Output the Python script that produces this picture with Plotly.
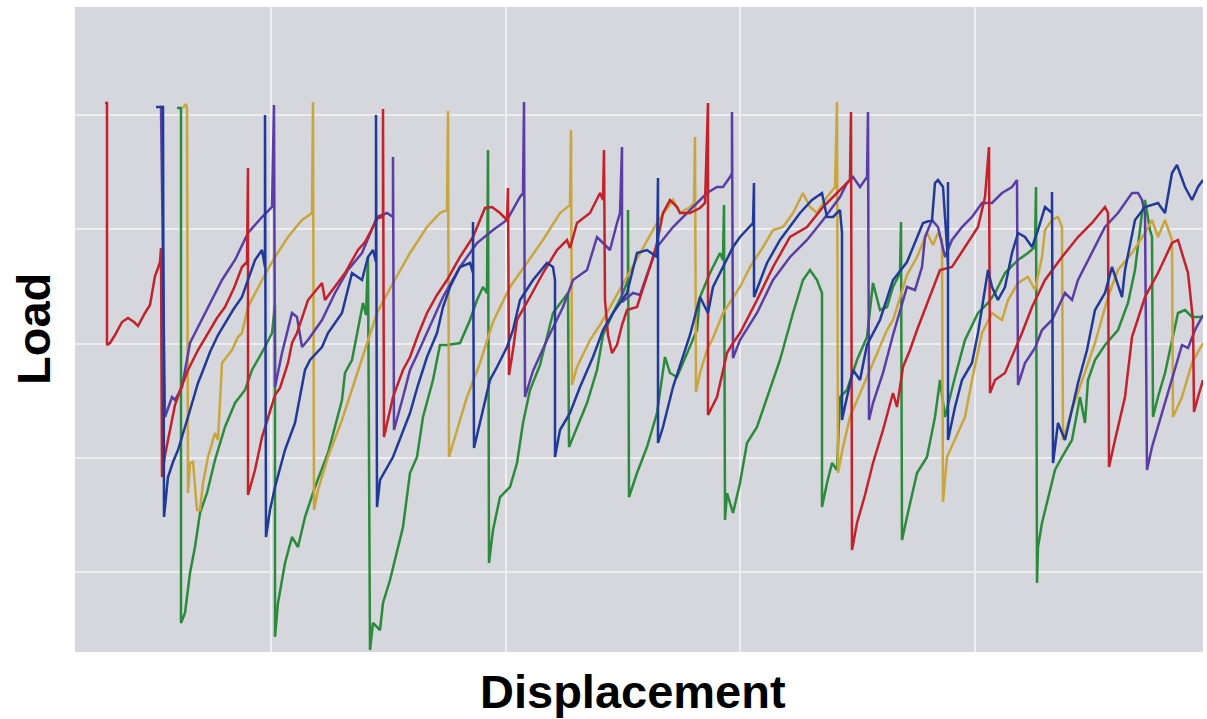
import plotly.graph_objects as go

# Load–displacement sawtooth curves.
# Each entry is (displacement, load) in arbitrary units (no tick labels on the chart).

red_pts = [
    (105, 597), (107, 597), (107, 355), (110, 357), (115, 365), (122, 378), (128, 382), (134, 378),
    (138, 374), (141, 380), (145, 387), (150, 395), (152, 407), (155, 424), (158, 432), (160, 438),
    (161, 452), (162, 223), (165, 245), (170, 270), (175, 295), (181, 312), (188, 330), (198, 350),
    (208, 367), (217, 382), (225, 393), (234, 412), (242, 433), (247, 438), (248, 532), (248, 205),
    (255, 230), (262, 263), (268, 282), (275, 305), (280, 312), (288, 337), (292, 357), (297, 367),
    (308, 400), (315, 408), (322, 417), (325, 400), (335, 413), (345, 427), (358, 450), (365, 458),
    (373, 473), (378, 482), (383, 483), (383, 591), (384, 263), (393, 303), (403, 330), (410, 343),
    (418, 365), (427, 387), (437, 405), (447, 420), (460, 443), (473, 463), (485, 492), (492, 493),
    (500, 487), (507, 480), (508, 512), (509, 325), (513, 350), (517, 380), (530, 403), (543, 427),
    (557, 450), (567, 460), (570, 452), (577, 477), (590, 487), (597, 500), (600, 507), (603, 500),
    (604, 550), (605, 400), (608, 365), (612, 347), (617, 355), (622, 375), (627, 390), (637, 393),
    (650, 433), (657, 457), (663, 487), (670, 500), (677, 493), (680, 487), (690, 487), (700, 492),
    (705, 497), (708, 597), (708, 285), (717, 303), (727, 347), (733, 357), (740, 367), (757, 400),
    (773, 433), (790, 463), (807, 473), (823, 493), (840, 510), (850, 520), (851, 588), (852, 150),
    (857, 177), (865, 205), (873, 237), (883, 270), (893, 307), (897, 293), (903, 333), (910, 350),
    (917, 370), (930, 403), (940, 430), (952, 433), (965, 453), (978, 473), (985, 503), (989, 553),
    (990, 307), (995, 320), (1005, 327), (1012, 343), (1022, 367), (1032, 393), (1045, 420),
    (1062, 443), (1078, 463), (1092, 477), (1105, 493), (1108, 487), (1109, 233), (1115, 260),
    (1125, 303), (1132, 363), (1145, 403), (1158, 427), (1172, 457), (1178, 460), (1188, 427),
    (1193, 380), (1194, 288), (1198, 303), (1203, 320),
]

blue_pts = [
    (156, 593), (163, 593), (164, 183), (168, 223), (173, 238), (178, 250), (188, 283), (198, 317),
    (202, 327), (210, 348), (218, 365), (225, 377), (233, 390), (242, 403), (250, 425), (255, 440),
    (262, 450), (265, 433), (265, 585), (266, 163), (270, 190), (275, 213), (285, 250), (295, 277),
    (305, 330), (310, 340), (322, 353), (328, 367), (342, 387), (352, 427), (362, 420), (368, 443),
    (373, 450), (376, 438), (376, 585), (377, 193), (380, 220), (393, 243), (410, 287), (418, 315),
    (427, 343), (437, 367), (443, 393), (450, 413), (460, 433), (470, 437), (473, 427), (473, 478),
    (474, 252), (480, 277), (490, 320), (497, 333), (507, 353), (513, 370), (520, 400), (533, 420),
    (547, 437), (553, 433), (555, 420), (555, 243), (560, 270), (570, 287), (580, 313), (593, 343),
    (603, 370), (613, 387), (627, 407), (637, 447), (647, 450), (657, 443), (658, 522), (658, 257),
    (663, 273), (673, 313), (683, 343), (690, 365), (700, 403), (708, 387), (713, 413), (723, 433),
    (733, 453), (740, 463), (753, 477), (754, 517), (754, 403), (767, 437), (780, 460), (800, 487),
    (812, 500), (822, 507), (827, 483), (833, 483), (840, 490), (842, 467), (842, 280), (847, 303),
    (853, 330), (860, 320), (867, 355), (880, 380), (893, 420), (907, 438), (917, 463), (923, 477),
    (932, 480), (935, 517), (938, 520), (943, 513), (947, 453), (948, 433), (948, 518), (948, 260),
    (955, 293), (962, 320), (972, 337), (978, 367), (988, 430), (992, 413), (998, 400), (1005, 413),
    (1012, 447), (1018, 467), (1025, 463), (1032, 453), (1038, 470), (1045, 493), (1052, 487),
    (1052, 508), (1053, 237), (1058, 277), (1065, 260), (1072, 290), (1078, 317), (1087, 350),
    (1095, 390), (1105, 407), (1112, 433), (1122, 403), (1125, 430), (1135, 480), (1145, 493),
    (1158, 497), (1165, 487), (1172, 527), (1177, 535), (1185, 513), (1192, 500), (1198, 513),
    (1203, 520),
]

purple_pts = [
    (160, 593), (161, 593), (165, 283), (172, 303), (175, 300), (182, 313), (186, 335), (190, 357),
    (195, 367), (208, 393), (222, 420), (235, 440), (248, 467), (262, 483), (272, 493), (274, 595),
    (275, 313), (282, 347), (292, 387), (297, 383), (302, 353), (308, 360), (322, 380), (335, 407),
    (348, 430), (362, 447), (370, 467), (377, 483), (387, 487), (393, 483), (393, 543), (394, 270),
    (403, 303), (410, 330), (417, 345), (427, 367), (443, 403), (460, 433), (477, 457), (493, 470),
    (507, 480), (520, 503), (523, 507), (524, 598), (525, 303), (533, 329), (547, 360), (563, 393),
    (573, 420), (587, 430), (597, 463), (603, 457), (610, 450), (617, 477), (620, 487), (622, 553),
    (622, 398), (633, 407), (640, 405), (647, 425), (657, 453), (673, 473), (690, 490), (707, 507),
    (717, 513), (723, 513), (730, 523), (732, 527), (732, 588), (733, 342), (740, 360), (757, 387),
    (773, 420), (790, 443), (807, 460), (823, 480), (840, 503), (847, 517), (853, 523), (860, 513),
    (867, 523), (868, 588), (869, 280), (873, 297), (883, 327), (893, 365), (907, 413), (915, 410),
    (922, 433), (925, 463), (932, 480), (938, 473), (945, 443), (952, 460), (962, 473), (972, 483),
    (982, 497), (992, 497), (1002, 507), (1012, 513), (1017, 520), (1018, 315), (1025, 337),
    (1035, 352), (1042, 370), (1052, 380), (1065, 407), (1072, 400), (1078, 420), (1092, 447),
    (1105, 473), (1118, 487), (1132, 507), (1138, 507), (1142, 500), (1145, 487), (1147, 230),
    (1152, 253), (1162, 287), (1172, 322), (1182, 355), (1188, 352), (1195, 370), (1203, 385),
]

gold_pts = [
    (183, 592), (186, 596), (187, 592), (188, 207), (190, 237), (193, 238), (197, 190), (200, 190),
    (203, 217), (208, 243), (215, 267), (218, 260), (222, 337), (232, 350), (238, 363), (242, 367),
    (248, 393), (262, 420), (275, 443), (288, 463), (302, 480), (312, 487), (313, 598), (314, 190),
    (318, 210), (328, 243), (342, 280), (352, 310), (365, 350), (377, 387), (393, 417), (410, 447),
    (427, 473), (440, 487), (447, 490), (448, 589), (449, 243), (457, 270), (467, 303), (480, 337),
    (493, 378), (510, 413), (527, 437), (543, 460), (560, 487), (570, 495), (571, 570), (572, 315),
    (577, 333), (590, 360), (600, 375), (610, 393), (627, 423), (643, 453), (657, 477), (673, 500),
    (680, 487), (690, 493), (694, 497), (695, 563), (696, 308), (700, 327), (707, 350), (713, 362),
    (723, 387), (740, 413), (750, 433), (763, 453), (773, 470), (783, 473), (793, 487), (803, 507),
    (810, 493), (817, 487), (827, 503), (835, 513), (837, 598), (838, 227), (843, 253), (850, 283),
    (860, 307), (873, 337), (887, 370), (893, 380), (907, 425), (917, 443), (927, 467), (933, 455),
    (938, 467), (942, 460), (943, 198), (947, 243), (955, 260), (965, 283), (972, 320), (982, 367),
    (992, 387), (1002, 380), (1008, 400), (1018, 417), (1028, 423), (1035, 410), (1042, 443),
    (1045, 470), (1052, 480), (1058, 483), (1062, 473), (1063, 260), (1072, 290), (1082, 320),
    (1095, 357), (1108, 403), (1118, 430), (1132, 447), (1145, 467), (1152, 480), (1158, 463),
    (1165, 480), (1172, 460), (1173, 283), (1182, 303), (1192, 337), (1203, 357),
]

green_pts = [
    (177, 592), (181, 592), (181, 77), (185, 87), (190, 127), (195, 153), (200, 187), (207, 207),
    (215, 240), (225, 273), (235, 297), (245, 310), (252, 330), (258, 340), (265, 353), (272, 367),
    (275, 395), (275, 63), (278, 97), (285, 137), (292, 163), (298, 153), (305, 183), (315, 213),
    (328, 247), (342, 300), (345, 327), (352, 340), (358, 370), (363, 397), (366, 385), (368, 443),
    (370, 50), (373, 77), (380, 70), (383, 97), (390, 120), (397, 150), (403, 173), (410, 227),
    (417, 243), (423, 283), (433, 320), (440, 355), (447, 355), (460, 357), (470, 380), (477, 400),
    (483, 413), (487, 407), (488, 550), (489, 137), (493, 170), (500, 203), (510, 213), (517, 237),
    (523, 277), (530, 310), (540, 335), (553, 387), (563, 400), (568, 407), (569, 253), (577, 273),
    (587, 297), (597, 330), (603, 365), (613, 387), (623, 407), (628, 420), (628, 490), (629, 203),
    (637, 227), (647, 253), (657, 287), (665, 343), (670, 327), (677, 323), (683, 337), (690, 353),
    (697, 370), (700, 403), (710, 427), (720, 447), (723, 440), (724, 495), (725, 180), (727, 207),
    (733, 187), (740, 217), (747, 257), (757, 273), (767, 303), (780, 340), (793, 387), (803, 420),
    (810, 430), (817, 420), (822, 407), (822, 193), (827, 217), (832, 237), (837, 230), (840, 303),
    (847, 310), (857, 340), (867, 363), (873, 417), (880, 390), (887, 393), (893, 413), (900, 427),
    (901, 478), (902, 160), (907, 183), (917, 227), (927, 243), (935, 283), (940, 320), (945, 283),
    (955, 323), (965, 360), (978, 387), (988, 397), (995, 407), (1005, 427), (1018, 440),
    (1028, 447), (1035, 453), (1036, 513), (1037, 117), (1038, 153), (1042, 177), (1048, 203),
    (1055, 230), (1062, 243), (1072, 260), (1080, 303), (1085, 277), (1088, 320), (1095, 340),
    (1105, 355), (1118, 370), (1128, 397), (1135, 430), (1142, 487), (1145, 500), (1150, 470),
    (1152, 463), (1153, 283), (1158, 303), (1165, 327), (1172, 360), (1178, 387), (1185, 390),
    (1192, 383), (1203, 383),
]

series = [
    ("Specimen 5", green_pts, "#2b8a3b"),
    ("Specimen 4", gold_pts, "#c9a63d"),
    ("Specimen 3", purple_pts, "#5b3ea5"),
    ("Specimen 2", red_pts, "#c3212b"),
    ("Specimen 1", blue_pts, "#213a98"),
]

fig = go.Figure()
for name, pts, color in series:
    xs = [p[0] for p in pts]
    ys = [p[1] for p in pts]
    fig.add_trace(go.Scatter(x=xs, y=ys, mode="lines", name=name,
                             line=dict(color=color, width=2.5)))

font_family = "Liberation Sans, Arial, sans-serif"

fig.update_layout(
    width=1207, height=719,
    margin=dict(l=75, r=4, t=7, b=67),
    paper_bgcolor="white",
    plot_bgcolor="#d5d7dc",
    showlegend=False,
    xaxis=dict(range=[75, 1203], showticklabels=False, ticks="", zeroline=False,
               showgrid=True, gridcolor="#eeeef1", gridwidth=2,
               tick0=271, dtick=234.7, showline=False),
    yaxis=dict(range=[48, 693], showticklabels=False, ticks="", zeroline=False,
               showgrid=True, gridcolor="#eeeef1", gridwidth=2,
               tick0=128, dtick=114.25, showline=False),
    annotations=[
        dict(text="Displacement", xref="paper", yref="paper",
             x=(633 - 75) / 1128, y=(652 - 691) / 645,
             xanchor="center", yanchor="middle", showarrow=False,
             font=dict(family=font_family, size=47, color="black", weight="bold")),
        dict(text="Load", xref="paper", yref="paper",
             x=(33 - 75) / 1128, y=(652 - 329) / 645, textangle=-90,
             xanchor="center", yanchor="middle", showarrow=False,
             font=dict(family=font_family, size=47, color="black", weight="bold")),
    ],
)

fig.write_html(
    "out.html",
    config={"displayModeBar": False},
    post_script="document.body.style.margin='0';document.body.style.overflow='hidden';",
)
